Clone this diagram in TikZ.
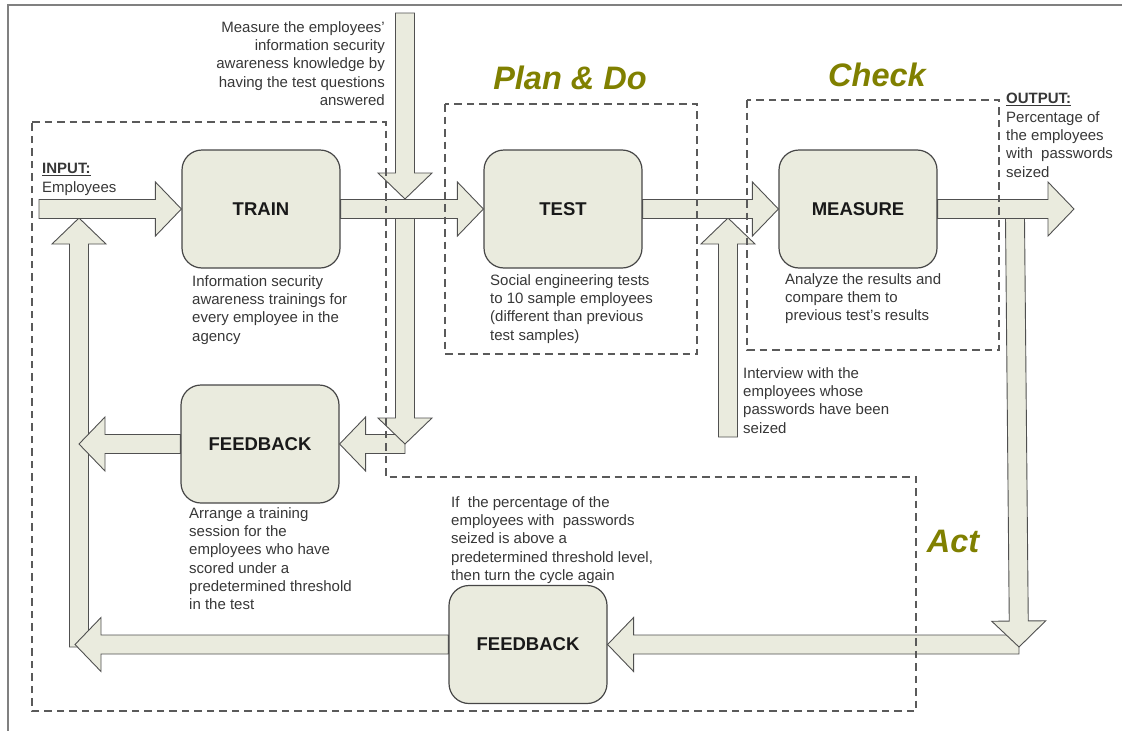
\documentclass[tikz,border=0pt]{standalone}
\usepackage{fontspec}
\setmainfont{Liberation Sans}
\usetikzlibrary{calc}
\definecolor{boxfill}{RGB}{234,235,222}
\definecolor{boxline}{RGB}{70,70,70}
\definecolor{arrowline}{RGB}{80,80,80}
\definecolor{zoneline}{RGB}{90,90,90}
\definecolor{olivehead}{RGB}{128,128,0}
\definecolor{textgray}{RGB}{55,55,55}

% block arrow from #1 to #2 (shaft 19pt, head 54pt wide, 26pt long)
\newcommand{\blockarrow}[2]{%
	\coordinate (ah) at ($(#2)!26pt!(#1)$);
	\draw[arrowbody] ($(#1)!9.5pt!90:(#2)$) -- ($(ah)!9.5pt!90:(#2)$) -- ($(ah)!27pt!90:(#2)$) -- (#2)
		-- ($(ah)!27pt!-90:(#2)$) -- ($(ah)!9.5pt!-90:(#2)$) -- ($(#1)!9.5pt!-90:(#2)$) -- cycle;
}

\begin{document}
\begin{tikzpicture}[x=1pt,y=-1pt]
	\tikzstyle{every node}=[font=\fontsize{15}{18.3}\selectfont, text=textgray]
	\tikzstyle{stage}=[draw=boxline, fill=boxfill, line width=1.2pt, rounded corners=20pt, minimum width=158pt, minimum height=118pt, font=\fontsize{18.5}{22}\selectfont\bfseries, text=black!90]
	\tikzstyle{caption}=[anchor=north west, align=left, inner sep=0pt]
	\tikzstyle{phaselabel}=[anchor=base, inner sep=0pt, font=\fontsize{32.5}{38}\selectfont\bfseries\itshape, text=olivehead]
	\tikzstyle{arrowbody}=[draw=arrowline, fill=boxfill, line width=0.9pt, line join=miter]
	\tikzstyle{zone}=[draw=zoneline, line width=1.2pt, dash pattern=on 7.5pt off 5pt]

	\useasboundingbox (0,0) rectangle (1122,731);
	\draw[gray, line width=1.5pt] (8,731) -- (8,5) -- (1122,5);

	% stages
	\node[stage] (train) at (261,209) {TRAIN};
	\node[stage] (test) at (563,209) {TEST};
	\node[stage] (measure) at (858,209) {MEASURE};
	\node[stage] (feedback) at (260,444) {FEEDBACK};
	\node[stage] (cycle) at (528,644.5) {FEEDBACK};

	% free arrow ends
	\coordinate (input) at (39,209);
	\coordinate (output) at (1074,209);
	\coordinate (quiztop) at (405,13);
	\coordinate (quizmid) at (405,199);
	\coordinate (quizlow) at (405,218);
	\coordinate (quizend) at (405,444);
	\coordinate (loopleft) at (79,444);
	\coordinate (loopbot) at (79,647);
	\coordinate (looptop) at (79,218);
	\coordinate (talkbot) at (728,437);
	\coordinate (talktop) at (728,218);
	\coordinate (outlow) at (1015,218);
	\coordinate (outend) at (1019,647);
	\coordinate (cycleright) at (1019,644.5);
	\coordinate (cycleleft) at (75,644.5);

	\blockarrow{loopbot}{looptop}
	\blockarrow{feedback.west}{loopleft}
	\blockarrow{cycle.west}{cycleleft}
	\blockarrow{quizend}{feedback.east}
	\blockarrow{quizlow}{quizend}
	\blockarrow{quiztop}{quizmid}
	\blockarrow{cycleright}{cycle.east}
	\blockarrow{outlow}{outend}
	\blockarrow{talkbot}{talktop}
	\blockarrow{input}{train.west}
	\blockarrow{train.east}{test.west}
	\blockarrow{test.east}{measure.west}
	\blockarrow{measure.east}{output}

	% phase zones
	\draw[zone] (32,122) -- (386,122) -- (386,477) -- (916,477) -- (916,711) -- (32,711) -- cycle;
	\draw[zone] (445,104) rectangle (697,354);
	\draw[zone] (747,100) rectangle (999,350);

	\node[phaselabel] (plando) at (570,89) {Plan \& Do};
	\node[phaselabel] (check) at (877,86) {Check};
	\node[phaselabel] (act) at (953,552) {Act};

	% notes
	\node[caption, anchor=north east, align=right] (quiznote) at (385,21.3) {Measure the employees'\\information security\\awareness knowledge by\\having the test questions\\answered};
	\node[caption] (inputnote) at (42,163.3) {\underline{\textbf{INPUT:}}\\Employees};
	\node[caption] (trainnote) at (192,275.3) {Information security\\awareness trainings for\\every employee in the\\agency};
	\node[caption] (testnote) at (490,274.3) {Social engineering tests\\to 10 sample employees\\(different than previous\\test samples)};
	\node[caption] (measurenote) at (785,273.3) {Analyze the results and\\compare them to\\previous test's results};
	\node[caption] (outputnote) at (1006,93.3) {\underline{\textbf{OUTPUT:}}\\Percentage of\\the employees\\with~ passwords\\seized};
	\node[caption] (talknote) at (743,367.3) {Interview with the\\employees whose\\passwords have been\\seized};
	\node[caption] (feedbacknote) at (189,507.3) {Arrange a training\\session for the\\employees who have\\scored under a\\predetermined threshold\\in the test};
	\node[caption] (cyclenote) at (451,496.3) {If~ the percentage of the\\employees with~ passwords\\seized is above a\\predetermined threshold level,\\then turn the cycle again};
\end{tikzpicture}
\end{document}
